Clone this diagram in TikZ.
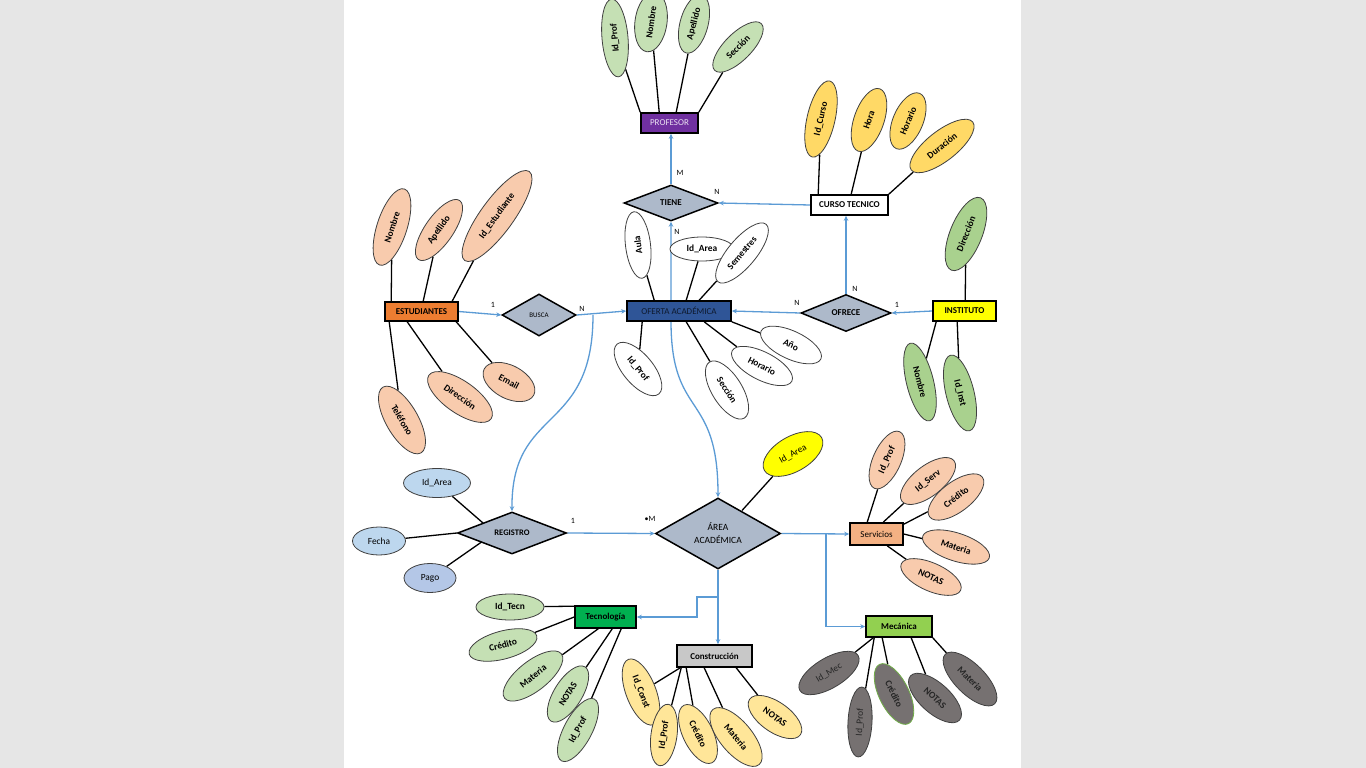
\documentclass[tikz,border=0pt]{standalone}
\usepackage{fontspec}
\setmainfont{Carlito}
\usetikzlibrary{shapes.geometric,arrows.meta,calc}
\definecolor{bgc}{RGB}{230,230,230}
\definecolor{cpurple}{HTML}{7030A0}
\definecolor{corange}{HTML}{ED7D31}
\definecolor{cdblue}{HTML}{2F5597}
\definecolor{cyellow}{HTML}{FFFF00}
\definecolor{cserv}{HTML}{F4B183}
\definecolor{ctec}{HTML}{00B050}
\definecolor{ccons}{HTML}{C8C8C8}
\definecolor{cmec}{HTML}{92D050}
\definecolor{cdia}{HTML}{ADB9CA}
\definecolor{cpg}{HTML}{C5E0B4}
\definecolor{cgold}{HTML}{FFD966}
\definecolor{cpeach}{HTML}{F8CBAD}
\definecolor{cig}{HTML}{A9D18E}
\definecolor{clb}{HTML}{BDD7EE}
\definecolor{cpago}{HTML}{B4C7E7}
\definecolor{clg}{HTML}{FFE699}
\definecolor{cmg}{HTML}{767171}
\definecolor{cline}{HTML}{5B9BD5}
\definecolor{cgreenb}{HTML}{70AD47}
\pgfdeclarelayer{bgl}
\pgfdeclarelayer{lnl}
\pgfsetlayers{bgl,lnl,main}
\tikzset{
  ent/.style={draw=black, line width=1.6pt, inner sep=0pt, font=\bfseries\fontsize{9}{10}\selectfont},
  rel/.style={diamond, draw=black, line width=1.5pt, fill=cdia, inner sep=0pt, font=\bfseries\fontsize{9}{10}\selectfont},
  att/.style={ellipse, draw=black!75, line width=0.8pt, inner sep=0pt, font=\bfseries\fontsize{9.4}{10}\selectfont},
  attn/.style={att, font=\fontsize{9.4}{10}\selectfont},
  al/.style={draw=black, line width=1.3pt},
  conn/.style={draw=cline, line width=1.3pt, -{Stealth[length=5pt,width=4.5pt]}},
  conn2/.style={draw=cline, line width=1.3pt, {Stealth[length=5pt,width=4.5pt]}-{Stealth[length=5pt,width=4.5pt]}},
  card/.style={inner sep=0pt, font=\fontsize{8}{9}\selectfont}
}
\begin{document}
\begin{tikzpicture}[x=1pt,y=-1pt]
\useasboundingbox (0,0) rectangle (1366,768);
\begin{pgfonlayer}{bgl}
\fill[bgc] (0,0) rectangle (1366,768);
\fill[white] (344,0) rectangle (1021,768);
\end{pgfonlayer}

% entities
\node[ent, fill=cpurple, text=white!85!cpurple, font=\fontsize{9}{10}\selectfont, minimum width=57pt, minimum height=20pt] (prof) at (669.5,123) {PROFESOR};
\node[ent, fill=white, minimum width=77pt, minimum height=20pt] (curso) at (849.5,205) {CURSO TECNICO};
\node[ent, fill=corange, minimum width=73pt, minimum height=19pt] (est) at (421.5,311.5) {ESTUDIANTES};
\node[ent, fill=cdblue, text=black!70!cdblue, font=\fontsize{9}{10}\selectfont, minimum width=104pt, minimum height=20pt] (oferta) at (679,311) {OFERTA ACADÉMICA};
\node[ent, fill=cyellow, minimum width=63pt, minimum height=20pt] (inst) at (964.5,311) {INSTITUTO};
\node[ent, fill=cserv, font=\fontsize{9}{10}\selectfont, minimum width=53pt, minimum height=22pt] (serv) at (876.5,534) {Servicios};
\node[ent, fill=ctec, minimum width=61pt, minimum height=22pt] (tec) at (605.5,617) {Tecnología};
\node[ent, fill=ccons, minimum width=75pt, minimum height=22pt] (cons) at (714.5,656) {Construcción};
\node[ent, fill=cmec, minimum width=66pt, minimum height=21pt] (mec) at (899,626.5) {Mecánica};

% relationships
\node[rel, minimum width=94pt, minimum height=36pt] (tiene) at (671,203) {TIENE};
\node[rel, font=\fontsize{7}{8}\selectfont, minimum width=74pt, minimum height=42pt] (busca) at (539,315) {BUSCA};
\node[rel, minimum width=90pt, minimum height=37pt] (ofrece) at (846,313) {OFRECE};
\node[rel, font=\bfseries\fontsize{8.5}{9}\selectfont, minimum width=109pt, minimum height=42pt] (registro) at (512,533) {REGISTRO};
\node[rel, font=\fontsize{9.5}{13}\selectfont, align=center, minimum width=125pt, minimum height=71pt] (area) at (718,533.5) {ÁREA\\ACADÉMICA};

% PROFESOR attributes
\node[att, fill=cpg, minimum width=78pt, minimum height=26pt, rotate=95] (pa1) at (615,38) {Id\_Prof};
\node[att, fill=cpg, minimum width=60pt, minimum height=32pt, rotate=82] (pa2) at (651,22) {Nombre};
\node[att, fill=cpg, minimum width=60pt, minimum height=28pt, rotate=75] (pa3) at (694,24) {Apellido};
\node[att, fill=cpg, minimum width=66pt, minimum height=27pt, rotate=45] (pa4) at (738,47) {Sección};

% CURSO attributes
\node[att, fill=cgold, minimum width=78pt, minimum height=28pt, rotate=77] (ca1) at (821,119) {Id\_Curso};
\node[att, fill=cgold, minimum width=66pt, minimum height=30pt, rotate=71] (ca2) at (869,120) {Hora};
\node[att, fill=cgold, minimum width=60pt, minimum height=30pt, rotate=67] (ca3) at (908,121) {Horario};
\node[att, fill=cgold, minimum width=78pt, minimum height=30pt, rotate=38] (ca4) at (942,146) {Duración};

% ESTUDIANTES attributes
\node[att, fill=cpeach, minimum width=80pt, minimum height=30pt, rotate=72] (ea1) at (392,227) {Nombre};
\node[att, fill=cpeach, minimum width=72pt, minimum height=28pt, rotate=55] (ea2) at (439,230) {Apellido};
\node[att, fill=cpeach, minimum width=110pt, minimum height=33pt, rotate=54] (ea3) at (497,216) {Id\_Estudiante};
\node[att, fill=cpeach, minimum width=76pt, minimum height=32pt, rotate=-60] (ea4) at (402,420) {Teléfono};
\node[att, fill=cpeach, minimum width=76pt, minimum height=32pt, rotate=-35] (ea5) at (460,397) {Dirección};
\node[att, fill=cpeach, minimum width=56pt, minimum height=33pt, rotate=-28] (ea6) at (509,382) {Email};

% OFERTA attributes
\node[att, fill=white, minimum width=67pt, minimum height=25pt, rotate=97] (oa1) at (638,245) {Aula};
\node[att, fill=white, minimum width=64pt, minimum height=24pt] (oa2) at (702,249) {Id\_Area};
\node[att, fill=white, minimum width=75pt, minimum height=28pt, rotate=50] (oa3) at (742,253) {Semestres};
\node[att, fill=white, minimum width=65pt, minimum height=30pt, rotate=-50] (oa4) at (638,369) {Id\_Prof};
\node[att, fill=white, minimum width=66pt, minimum height=30pt, rotate=-58] (oa5) at (727,390) {Sección};
\node[att, fill=white, minimum width=67pt, minimum height=28pt, rotate=-27] (oa6) at (762,366) {Horario};
\node[att, fill=white, minimum width=66pt, minimum height=28pt, rotate=-25] (oa7) at (791,345) {Año};

% INSTITUTO attributes
\node[att, fill=cig, minimum width=78pt, minimum height=32pt, rotate=68] (ia1) at (966,234) {Dirección};
\node[att, fill=cig, minimum width=80pt, minimum height=27pt, rotate=-76] (ia2) at (920,382) {Nombre};
\node[att, fill=cig, minimum width=78pt, minimum height=28pt, rotate=-76] (ia3) at (960,393) {Id\_Inst};

% REGISTRO attributes
\node[attn, fill=clb, minimum width=67pt, minimum height=29pt] (ra1) at (437,483) {Id\_Area};
\node[attn, fill=clb, minimum width=53pt, minimum height=28pt] (ra2) at (379,541) {Fecha};
\node[attn, fill=cpago, minimum width=52pt, minimum height=29pt] (ra3) at (430,578) {Pago};

% AREA attribute
\node[attn, fill=cyellow, minimum width=66pt, minimum height=35pt, rotate=30] (aa1) at (793,454) {Id\_Area};

% Servicios attributes
\node[att, fill=cpeach, minimum width=62pt, minimum height=28pt, rotate=66] (sa1) at (887,460) {Id\_Prof};
\node[att, fill=cpeach, minimum width=66pt, minimum height=30pt, rotate=38] (sa2) at (928,481) {Id\_Serv};
\node[att, fill=cpeach, minimum width=66pt, minimum height=30pt, rotate=37] (sa3) at (956,497) {Crédito};
\node[att, fill=cpeach, minimum width=70pt, minimum height=28pt, rotate=-18] (sa4) at (956,547) {Materia};
\node[att, fill=cpeach, minimum width=65pt, minimum height=28pt, rotate=-24] (sa5) at (931,577) {NOTAS};

% Tecnologia attributes
\node[att, fill=cpg, minimum width=68pt, minimum height=26pt] (ta1) at (510,607) {Id\_Tecn};
\node[att, fill=cpg, minimum width=70pt, minimum height=28pt, rotate=15] (ta2) at (503,645) {Crédito};
\node[att, fill=cpg, minimum width=72pt, minimum height=30pt, rotate=38] (ta3) at (533,676) {Materia};
\node[att, fill=cpg, minimum width=64pt, minimum height=28pt, rotate=58] (ta4) at (568,694) {NOTAS};
\node[att, fill=cpg, minimum width=70pt, minimum height=28pt, rotate=62] (ta5) at (578,730) {Id\_Prof};

% Construccion attributes
\node[att, fill=clg, minimum width=70pt, minimum height=30pt, rotate=-69] (na1) at (641,692) {Id\_Const};
\node[att, fill=clg, minimum width=62pt, minimum height=26pt, rotate=82] (na2) at (664,735) {Id\_Prof};
\node[att, fill=clg, minimum width=64pt, minimum height=30pt, rotate=-64] (na3) at (698,734) {Crédito};
\node[att, fill=clg, minimum width=72pt, minimum height=32pt, rotate=-50] (na4) at (736,737) {Materia};
\node[att, fill=clg, minimum width=62pt, minimum height=30pt, rotate=-35] (na5) at (775,717) {NOTAS};

% Mecanica attributes
\node[attn, fill=cmg, text=black!85, minimum width=68pt, minimum height=30pt, rotate=31] (ma1) at (829,673) {Id\_Mec};
\node[attn, fill=cmg, text=black!85, minimum width=70pt, minimum height=24pt, rotate=87] (ma2) at (860,722) {Id\_Prof};
\node[att, fill=cmg, text=black!85, draw=cgreenb, minimum width=66pt, minimum height=30pt, rotate=-64] (ma3) at (894,694) {Crédito};
\node[att, fill=cmg, text=black!85, minimum width=66pt, minimum height=30pt, rotate=-42] (ma4) at (935,698) {NOTAS};
\node[att, fill=cmg, text=black!85, minimum width=70pt, minimum height=30pt, rotate=-45] (ma5) at (970,679) {Materia};

% cardinality labels
\node[card] (l1) at (680,173) {M};
\node[card] (l2) at (717,192) {N};
\node[card] (l3) at (855,289) {N};
\node[card] (l4) at (493,305) {1};
\node[card] (l5) at (582,309) {N};
\node[card] (l6) at (677,232) {N};
\node[card] (l7) at (797,303) {N};
\node[card] (l8) at (897,305) {1};
\node[card] (l9) at (573,521) {1};
\node[card] (l10) at (650,519) {\textbullet M};

\begin{pgfonlayer}{lnl}
% attribute lines
\draw[al] (pa1) -- (prof.north west);
\draw[al] (pa2) -- ($(prof.north west)+(19,0)$);
\draw[al] (pa3) -- ($(prof.north west)+(36,0)$);
\draw[al] (pa4) -- (prof.north east);
\draw[al] (ca1) -- ($(curso.north west)+(8,0)$);
\draw[al] (ca2) -- ($(curso.north west)+(41,0)$);
\draw[al] (ca4) -- (curso.north east);
\draw[al] (ea1) -- ($(est.north west)+(7,0)$);
\draw[al] (ea2) -- ($(est.north west)+(39,0)$);
\draw[al] (ea3) -- ($(est.north west)+(68,0)$);
\draw[al] (ea4) -- ($(est.south west)+(5,0)$);
\draw[al] (ea5) -- ($(est.south west)+(23,0)$);
\draw[al] (ea6) -- ($(est.south west)+(72,0)$);
\draw[al] (oa1) -- ($(oferta.north west)+(28,0)$);
\draw[al] ($(oa2.south)+(-4,0)$) -- ($(oferta.north west)+(60,0)$);
\draw[al] (oa3) -- ($(oferta.north west)+(73,0)$);
\draw[al] (oa4) -- ($(oferta.south west)+(16,0)$);
\draw[al] (oa5) -- ($(oferta.south west)+(60,0)$);
\draw[al] (oa6) -- ($(oferta.south west)+(78,0)$);
\draw[al] (oa7) -- (oferta.south east);
\draw[al] (ia1) -- ($(inst.north west)+(33,0)$);
\draw[al] (ia2) -- ($(inst.south west)+(4,0)$);
\draw[al] (ia3) -- ($(inst.south west)+(25,0)$);
\draw[al] (ra1) -- ($(registro.center)+(-29,-10)$);
\draw[al] (ra2) -- (registro.west);
\draw[al] (ra3) -- ($(registro.center)+(-29,8)$);
\draw[al] (aa1) -- ($(area.center)+(24,-23)$);
\draw[al] (sa1) -- ($(serv.north west)+(18,0)$);
\draw[al] (sa2) -- ($(serv.north west)+(34,0)$);
\draw[al] (sa3) -- ($(serv.north east)+(0,2)$);
\draw[al] (sa4) -- (serv.east);
\draw[al] (sa5) -- ($(serv.south west)+(38,0)$);
\draw[al] (ta1) -- ($(tec.north west)+(0,1)$);
\draw[al] (ta2) -- (tec.west);
\draw[al] (ta3) -- ($(tec.south west)+(24,0)$);
\draw[al] (ta4) -- ($(tec.south west)+(38,0)$);
\draw[al] (ta5) -- ($(tec.south west)+(47,0)$);
\draw[al] (na1) -- ($(cons.south west)+(4,0)$);
\draw[al] (na2) -- ($(cons.south west)+(5,0)$);
\draw[al] (na3) -- ($(cons.south west)+(10,0)$);
\draw[al] (na4) -- ($(cons.south west)+(28,0)$);
\draw[al] (na5) -- ($(cons.south west)+(60,0)$);
\draw[al] (ma1) -- ($(mec.south west)+(8,0)$);
\draw[al] (ma2) -- ($(mec.south west)+(9,0)$);
\draw[al] (ma3) -- ($(mec.south west)+(17,0)$);
\draw[al] (ma4) -- ($(mec.south west)+(46,0)$);
\draw[al] (ma5) -- (mec.south east);

% relationship connectors
\draw[conn] (tiene.north) -- (tiene.north |- prof.south);
\draw[conn] (curso.west) -- (tiene.east);
\draw[conn] (ofrece.north) -- (ofrece.north |- curso.south);
\draw[conn] (est.east) -- (busca.west);
\draw[conn] (busca.east) -- (oferta.west);
\draw[conn] (inst.west) -- (ofrece.east);
\draw[conn] (ofrece.west) -- (oferta.east);
\coordinate (bj) at (593,315);
\draw[conn] (bj) .. controls (593,435) and (511,405) .. (registro.north);
\coordinate (oj) at (671,321);
\draw[conn2] (tiene.south) -- (oj) .. controls (671,420) and (718,390) .. (area.north);
\draw[conn] (registro.east) -- (area.west);
\draw[conn] (area.east) -- (serv.west);
\coordinate (mj) at (826,533.5);
\draw[conn] (mj) |- (mec.west);
\draw[conn] (area.south) -- (area.south |- cons.north);
\coordinate (tj) at (718,597);
\draw[conn] (tj) -| (697,617) -- (tec.east);
\end{pgfonlayer}
\end{tikzpicture}
\end{document}
